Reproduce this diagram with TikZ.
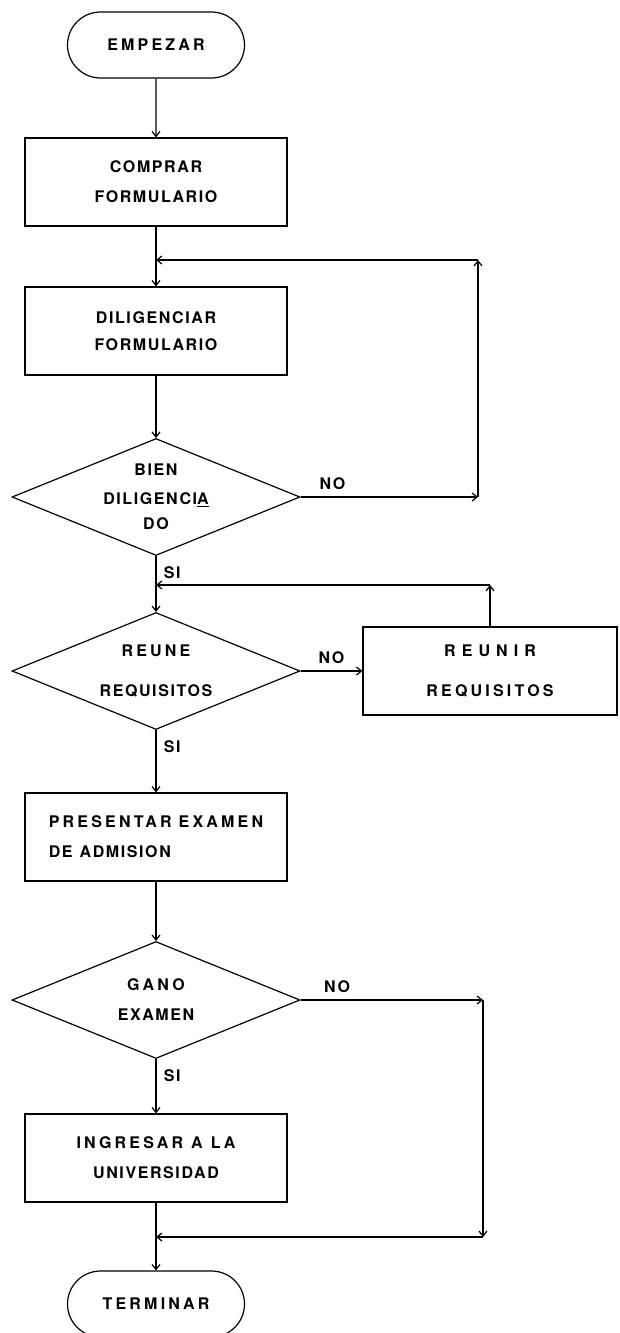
\documentclass[tikz,border=0pt]{standalone}
\usepackage{fontspec}
\setmainfont{TeX Gyre Heros}[LetterSpace=10]
\usetikzlibrary{shapes.geometric,shapes.misc,arrows.meta}
\newcommand{\ancho}{\addfontfeature{LetterSpace=20}}
\newcommand{\masancho}{\addfontfeature{LetterSpace=38}}

\begin{document}
\begin{tikzpicture}[x=1pt,y=-1pt,line width=1.2pt,
	>={Straight Barb[length=5pt,width=8pt]},
	every node/.style={font=\bfseries\fontsize{16}{30}\selectfont},
	caja/.style={draw,rectangle,minimum width=262pt,minimum height=88pt,align=center,inner sep=0pt},
	rombo/.style={draw,diamond,aspect=2.45,minimum width=288pt,minimum height=117pt,align=center,inner sep=0pt},
	extremo/.style={draw,rounded rectangle,minimum width=177pt,minimum height=66pt,inner sep=0pt}]
		\useasboundingbox (0,0) rectangle (620,1333);
		\node[extremo] (empezar) at (156,45) {\ancho EMPEZAR};
		\node[caja] (comprar) at (156,182) {COMPRAR\\FORMULARIO};
		\node[caja] (diligenciar) at (156,331) {DILIGENCIAR\\[-3pt]FORMULARIO};
		\node[rombo] (bien) at (156,497) {BIEN\\[-1pt]DILIGENCI\underline{A}\\[-5pt]DO};
		\node[rombo] (reune) at (156,671) {{\ancho REUNE}\\[10pt]REQUISITOS};
		\node[caja,minimum width=254pt] (reunir) at (490,671) {{\masancho REUNIR}\\[10pt]{\ancho REQUISITOS}};
		\node[caja,align=left] (presentar) at (156,837) {\ancho PRESENTAR\hspace{7pt}EXAMEN\\DE\hspace{7pt}ADMISION};
		\node[rombo] (gano) at (156,1000) {\ancho GANO\\EXAMEN};
		\node[caja] (ingresar) at (156,1158) {\ancho INGRESAR\hspace{8pt}A\hspace{8pt}LA\\UNIVERSIDAD};
		\node[extremo] (terminar) at (156,1304) {\ancho TERMINAR};
		\coordinate (j1) at (156,260);
		\coordinate (c1) at (478,497);
		\coordinate (c2) at (478,260);
		\coordinate (j2) at (156,585);
		\coordinate (c3) at (490,585);
		\coordinate (j3) at (156,1237);
		\coordinate (c4) at (483,1000);
		\coordinate (c5) at (483,1237);
		\draw[->] (empezar) -- (comprar);
		\draw[->] (comprar) -- (diligenciar);
		\draw[->] (diligenciar) -- (bien);
		\draw[->] (bien.east) -- node[pos=0.18,above=3pt] {NO} (c1);
		\draw[->] (c1) -- (c2);
		\draw[->] (c2) -- (j1);
		\draw[->] (bien) -- node[pos=0.3,right=4pt] {SI} (reune);
		\draw[->] (reune.east) -- node[above=3pt] {NO} (reunir.west);
		\draw[->] (reunir.north) -- (c3);
		\draw[->] (c3) -- (j2);
		\draw[->] (reune) -- node[pos=0.27,right=4pt] {SI} (presentar);
		\draw[->] (presentar) -- (gano);
		\draw[->] (gano.east) -- node[pos=0.2,above=3pt] {NO} (c4);
		\draw[->] (c4) -- (c5);
		\draw[->] (c5) -- (j3);
		\draw[->] (gano) -- node[pos=0.3,right=4pt] {SI} (ingresar);
		\draw[->] (ingresar) -- (terminar);
		\end{tikzpicture}
\end{document}
